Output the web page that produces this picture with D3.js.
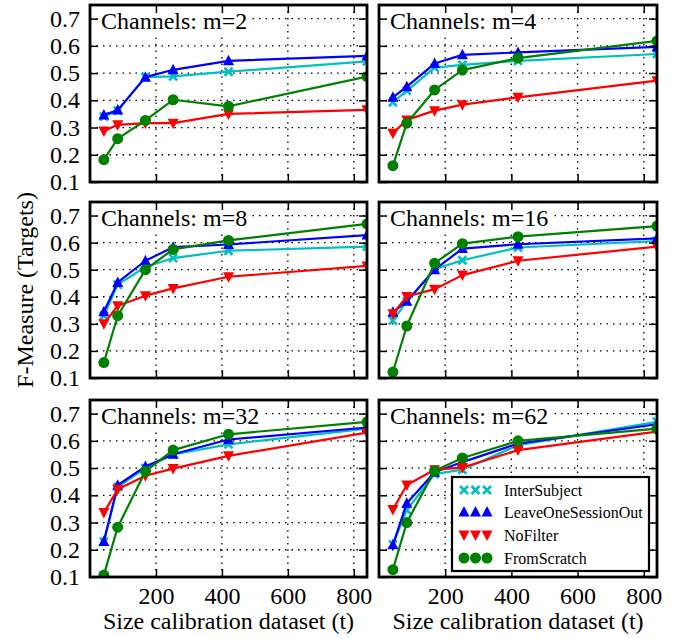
<!DOCTYPE html>
<html><head><meta charset="utf-8">
<script src="https://cdn.jsdelivr.net/npm/d3@7"></script>
<style>body{margin:0;background:#fff}svg{display:block}</style>
</head><body>
<script>
const xValues = [42, 84, 168, 252, 420, 840];
const panelTitles = ["Channels: m=2","Channels: m=4","Channels: m=8","Channels: m=16","Channels: m=32","Channels: m=62"];
const seriesNames = ["InterSubject","LeaveOneSessionOut","NoFilter","FromScratch"];
const xTicks = [200, 400, 600, 800];
const yTicks = [0.1,0.2,0.3,0.4,0.5,0.6,0.7];

const interSubject = [
  [0.340,0.362,0.485,0.488,0.505,0.543],
  [0.393,0.435,0.520,0.530,0.545,0.570],
  [0.330,0.445,0.510,0.543,0.570,0.585],
  [0.312,0.383,0.502,0.535,0.582,0.606],
  [0.230,0.430,0.500,0.550,0.587,0.645],
  [0.220,0.346,0.478,0.494,0.584,0.670]];
const leaveOneSessionOut = [
  [0.346,0.364,0.485,0.512,0.545,0.563],
  [0.411,0.450,0.535,0.567,0.576,0.596],
  [0.345,0.453,0.533,0.583,0.593,0.628],
  [0.343,0.383,0.500,0.578,0.594,0.616],
  [0.230,0.437,0.506,0.551,0.605,0.649],
  [0.218,0.371,0.485,0.522,0.590,0.661]];
const noFilter = [
  [0.287,0.310,0.316,0.316,0.350,0.365],
  [0.279,0.328,0.362,0.384,0.411,0.472],
  [0.300,0.367,0.404,0.431,0.474,0.514],
  [0.337,0.401,0.428,0.480,0.533,0.585],
  [0.337,0.422,0.472,0.498,0.545,0.630],
  [0.348,0.438,0.494,0.502,0.566,0.634]];
const fromScratch = [
  [0.182,0.259,0.326,0.402,0.378,0.487],
  [0.160,0.316,0.438,0.511,0.555,0.618],
  [0.157,0.330,0.500,0.575,0.608,0.669],
  [0.122,0.292,0.524,0.596,0.622,0.661],
  [0.107,0.283,0.488,0.566,0.624,0.670],
  [0.127,0.300,0.490,0.537,0.600,0.645]];

const allSeries = [interSubject, leaveOneSessionOut, noFilter, fromScratch];
const colors = ["#00BFBF","#0000FF","#FF0000","#008000"];
const markerTypes = ["x","up","down","circle"];

// pick an installed serif font
function pickFont() {
  const ctx = document.createElement("canvas").getContext("2d");
  const sample = "Channels: m=62 0.123456789 Size (t)";
  const cands = ["Liberation Serif","DejaVu Serif","Times New Roman","Tinos","Noto Serif","FreeSerif","Nimbus Roman","Nimbus Roman No9 L","Times"];
  for (const base of ["monospace","sans-serif"]) {
    ctx.font = `24px ${base}`; const w0 = ctx.measureText(sample).width;
    for (const c of cands) {
      ctx.font = `24px "${c}", ${base}`;
      if (Math.abs(ctx.measureText(sample).width - w0) > 0.5) return `"${c}", serif`;
    }
  }
  return "serif";
}
const FONT = pickFont();

const W = 674, H = 638;
const svg = d3.select("body").append("svg").attr("width", W).attr("height", H)
  .style("font-family", FONT);

const colX = [[90,367],[379,657]];
const rowY = [[5,182],[202,378],[400,577]];

function drawMarker(g, type, color, cx, cy, s) {
  if (type === "circle") {
    g.append("circle").attr("cx",cx).attr("cy",cy).attr("r",s*0.55).attr("fill",color);
  } else if (type === "up") {
    const h = s*1.0, w = s*1.1;
    g.append("path").attr("d",`M${cx},${cy-h*0.6}L${cx+w/2},${cy+h*0.45}L${cx-w/2},${cy+h*0.45}Z`).attr("fill",color);
  } else if (type === "down") {
    const h = s*1.0, w = s*1.1;
    g.append("path").attr("d",`M${cx},${cy+h*0.6}L${cx+w/2},${cy-h*0.45}L${cx-w/2},${cy-h*0.45}Z`).attr("fill",color);
  } else {
    const r = s*0.4;
    g.append("path").attr("d",`M${cx-r},${cy-r}L${cx+r},${cy+r}M${cx-r},${cy+r}L${cx+r},${cy-r}`)
      .attr("stroke",color).attr("stroke-width",2.6).attr("fill","none");
  }
}

panelTitles.forEach((title, p) => {
  const col = p % 2, row = Math.floor(p / 2);
  const [x0, x1] = colX[col], [y0, y1] = rowY[row];
  const x = d3.scaleLinear().domain([0, 840]).range([x0, x1]);
  const y = d3.scaleLinear().domain([0.1, 0.75]).range([y1, y0]);
  const g = svg.append("g");
  const clipId = "clip" + p;
  svg.append("clipPath").attr("id", clipId).append("rect")
    .attr("x", x0).attr("y", y0).attr("width", x1 - x0).attr("height", y1 - y0);

  const grid = g.append("g").attr("stroke","#000").attr("stroke-width",1.3).attr("stroke-dasharray","1.5,5");
  xTicks.forEach(t => grid.append("line").attr("x1",x(t)).attr("x2",x(t)).attr("y1",y0).attr("y2",y1));
  yTicks.forEach(t => grid.append("line").attr("x1",x0).attr("x2",x1).attr("y1",y(t)).attr("y2",y(t)));

  const plot = g.append("g").attr("clip-path", `url(#${clipId})`);
  const line = d3.line().x((d,i) => x(xValues[i])).y(d => y(d));
  allSeries.forEach((s, k) => {
    const vals = s[p];
    plot.append("path").attr("d", line(vals)).attr("fill","none")
      .attr("stroke", colors[k]).attr("stroke-width", 2.2).attr("stroke-linejoin","round");
    vals.forEach((v, i) => drawMarker(plot, markerTypes[k], colors[k], x(xValues[i]), y(v), 10));
  });

  const tg = g.append("g");
  const txt = tg.append("text").attr("x", x0 + 11).attr("y", y0 + 24)
    .attr("font-size", 24).attr("fill","#000").text(title);
  const bb = txt.node().getBBox();
  tg.insert("rect","text").attr("x", bb.x - 4).attr("y", y0 + 3).attr("width", bb.width + 8)
    .attr("height", 26).attr("fill","#fff");

  const ax = g.append("g");
  const bottom = ax.append("g").attr("transform",`translate(0,${y1})`)
    .call(d3.axisBottom(x).tickValues(xTicks).tickSizeInner(-8).tickSizeOuter(0).tickPadding(10));
  const top = ax.append("g").attr("transform",`translate(0,${y0})`)
    .call(d3.axisTop(x).tickValues(xTicks).tickSizeInner(-8).tickSizeOuter(0).tickFormat(""));
  const left = ax.append("g").attr("transform",`translate(${x0},0)`)
    .call(d3.axisLeft(y).tickValues(yTicks).tickSizeInner(-8).tickSizeOuter(0).tickPadding(10).tickFormat(d3.format(".1f")));
  const right = ax.append("g").attr("transform",`translate(${x1},0)`)
    .call(d3.axisRight(y).tickValues(yTicks).tickSizeInner(-8).tickSizeOuter(0).tickFormat(""));
  [bottom, top, left, right].forEach(a => {
    a.attr("font-family", FONT);
    a.select(".domain").remove();
    a.selectAll(".tick line").attr("stroke","#000").attr("stroke-width",1.5);
    a.selectAll("text").attr("font-size", 24).attr("fill","#000");
  });
  if (row < 2) bottom.selectAll("text").remove();
  if (col > 0) left.selectAll("text").remove();
  ax.append("rect").attr("x",x0).attr("y",y0).attr("width",x1-x0).attr("height",y1-y0)
    .attr("fill","none").attr("stroke","#000").attr("stroke-width",2.8);

  if (row === 2) {
    svg.append("text").attr("x",(x0+x1)/2).attr("y",629).attr("text-anchor","middle")
      .attr("font-size",24).text("Size calibration dataset (t)");
  }
});

svg.append("text").attr("transform",`translate(33,${(rowY[1][0]+rowY[1][1])/2}) rotate(-90)`)
  .attr("text-anchor","middle").attr("font-size",24).text("F-Measure (Targets)");

const lg = svg.append("g");
lg.append("rect").attr("x",452).attr("y",477).attr("width",197).attr("height",94)
  .attr("fill","#fff").attr("stroke","#000").attr("stroke-width",2.2);
const rowsY = [490, 512, 535, 558];
seriesNames.forEach((n, k) => {
  [464, 475.5, 487].forEach(mx => drawMarker(lg, markerTypes[k], colors[k], mx, rowsY[k], 10));
  lg.append("text").attr("x",504).attr("y",rowsY[k]).attr("dy","0.35em")
    .attr("font-size",16).text(n);
});
</script>
</body></html>
